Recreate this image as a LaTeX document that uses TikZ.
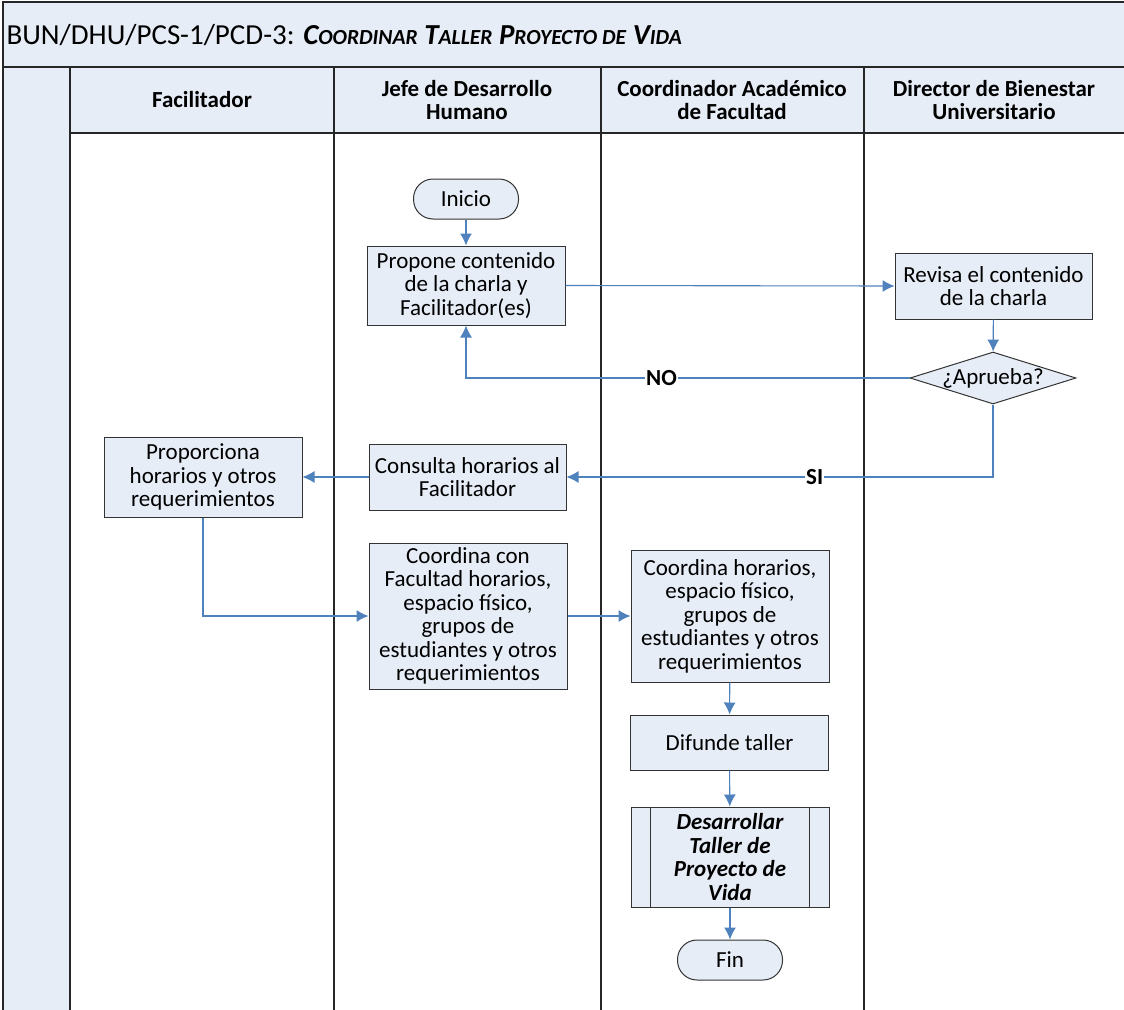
\documentclass[tikz,border=0pt]{standalone}
\usepackage{fontspec}
\setmainfont{Carlito}
\usetikzlibrary{arrows.meta,shapes.geometric}
\definecolor{lanefill}{RGB}{230,237,247}
\definecolor{flowblue}{RGB}{79,129,189}
\newcommand{\boxfont}{\fontsize{23}{23.5}\selectfont}
\newcommand{\titlefont}{\fontsize{29}{32}\selectfont}
\newcommand{\lowcaps}[1]{{\fontsize{21.5}{26}\selectfont #1}}

\begin{document}
\begin{tikzpicture}[x=1pt, y=-1pt,
        lane/.style={black!85, line width=1.4pt},
        box/.style={draw=black!80, fill=lanefill, line width=1pt, align=center, inner sep=0pt, font=\boxfont},
        hdr/.style={align=center, font=\boxfont\bfseries},
        term/.style={box, rounded corners=19.5pt, minimum width=105, minimum height=40},
        flow/.style={flowblue, line width=1.1pt, -{Latex[length=12pt,width=12pt]}},
        lbl/.style={fill=white, text=black, inner sep=1pt, font=\boxfont\bfseries}]
        \useasboundingbox (0,0) rectangle (1124,1009);

        \fill [lanefill] (3,2) rectangle (1130,67);
        \fill [lanefill] (3,67) rectangle (70,1015);
        \fill [lanefill] (70,67) rectangle (1130,133);
        \draw [lane] (1130,2) to (3,2) to (3,1015);
        \draw [lane] (3,67) to (1130,67);
        \draw [lane] (70,133) to (1130,133);
        \foreach \x in {70,334,601,864}
            \draw [lane] (\x,67) to (\x,1015);

        \node [anchor=west, font=\titlefont] (title) at (3,35) {BUN/DHU/PCS-1/PCD-3: \textbf{\textit{C\lowcaps{OORDINAR} T\lowcaps{ALLER} P\lowcaps{ROYECTO DE} V\lowcaps{IDA}}}};

        \node [hdr] (hfac) at (202,100) {Facilitador};
        \node [hdr] (hjefe) at (467,100) {Jefe de Desarrollo\\Humano};
        \node [hdr] (hcoord) at (732,100) {Coordinador Académico\\de Facultad};
        \node [hdr] (hdir) at (994,100) {Director de Bienestar\\Universitario};

        \node [term] (inicio) at (466,199) {Inicio};
        \node [box, minimum width=198, minimum height=79] (propone) at (466,285.5) {Propone contenido\\de la charla y\\Facilitador(es)};
        \node [box, minimum width=197, minimum height=66] (revisa) at (993.5,286) {Revisa el contenido\\de la charla};
        \node [box, diamond, aspect=3.2, minimum width=166, minimum height=52, label=center:{\boxfont ¿Aprueba?}] (aprueba) at (993,378) {};
        \node [box, minimum width=198, minimum height=80] (proporciona) at (203,477) {Proporciona\\horarios y otros\\requerimientos};
        \node [box, minimum width=197, minimum height=66] (consulta) at (467.5,477) {Consulta horarios al\\Facilitador};
        \node [box, minimum width=198, minimum height=146] (coordcon) at (468,616) {Coordina con\\Facultad horarios,\\espacio físico,\\grupos de\\estudiantes y otros\\requerimientos};
        \node [box, minimum width=198, minimum height=132] (coordhor) at (730,616) {Coordina horarios,\\espacio físico,\\grupos de\\estudiantes y otros\\requerimientos};
        \node [box, minimum width=198, minimum height=55] (difunde) at (729.5,742.5) {Difunde taller};
        \node [box, minimum width=198, minimum height=100, font=\boxfont\bfseries\itshape] (desarrollar) at (730,857) {Desarrollar\\Taller de\\Proyecto de\\Vida};
        \draw [black!80, line width=1pt] ([xshift=20pt]desarrollar.north west) to ([xshift=20pt]desarrollar.south west);
        \draw [black!80, line width=1pt] ([xshift=-20pt]desarrollar.north east) to ([xshift=-20pt]desarrollar.south east);
        \node [term] (fin) at (730,960) {Fin};

        \draw [flow] (inicio) to (propone);
        \draw [flow] (propone.east) to (revisa.west);
        \draw [flow] (revisa) to (aprueba);
        \draw [flow] (aprueba.west) to node [lbl, pos=0.559] {NO} (aprueba.west -| propone.south) to (propone.south);
        \draw [flow] (aprueba.south) |- node [lbl, pos=0.709] {SI} (consulta.east);
        \draw [flow] (consulta.west) to (proporciona.east);
        \draw [flow] (proporciona.south) |- (coordcon.west);
        \draw [flow] (coordcon.east) to (coordhor.west);
        \draw [flow] (coordhor) to (difunde);
        \draw [flow] (difunde) to (desarrollar);
        \draw [flow] (desarrollar) to (fin);
    \end{tikzpicture}
\end{document}
